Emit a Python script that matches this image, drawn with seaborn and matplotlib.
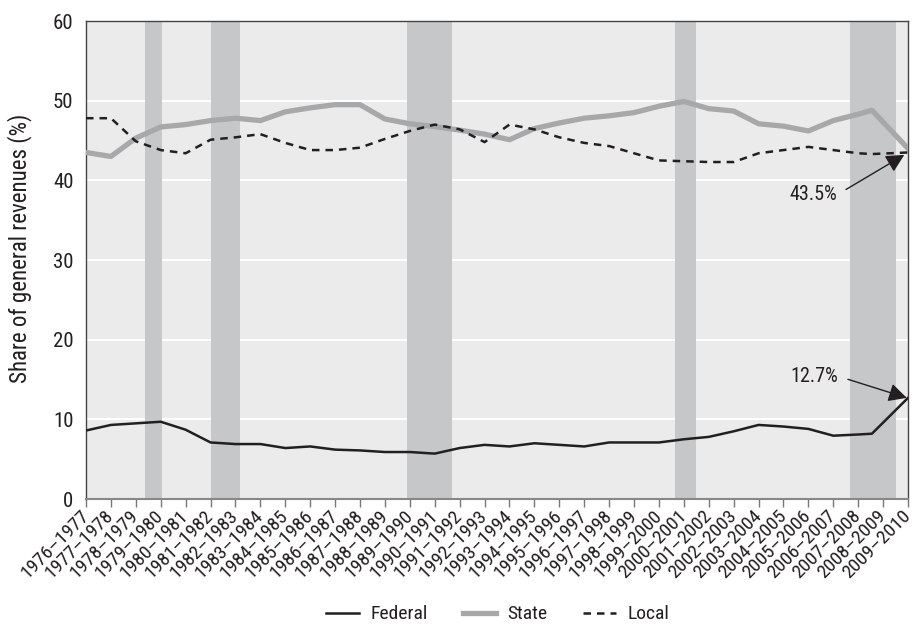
import numpy as np
import pandas as pd
import matplotlib
matplotlib.use("Agg")
import matplotlib.pyplot as plt
import seaborn as sns

# school years on the x axis
periods = ["1976–1977", "1977–1978", "1978–1979", "1979–1980", "1980–1981",
           "1981–1982", "1982–1983", "1983–1984", "1984–1985", "1985–1986",
           "1986–1987", "1987–1988", "1988–1989", "1989–1990", "1990–1991",
           "1991–1992", "1992–1993", "1993–1994", "1994–1995", "1995–1996",
           "1996–1997", "1997–1998", "1998–1999", "1999–2000", "2000–2001",
           "2001–2002", "2002–2003", "2003–2004", "2004–2005", "2005–2006",
           "2006–2007", "2007–2008", "2008–2009", "2009–2010"]
# where each value sits along the axis (the 2008-2009 point is drawn off its tick)
period_pos = list(range(32)) + [31.55, 33]

federal = [8.6, 9.3, 9.5, 9.7, 8.7, 7.1, 6.9, 6.9, 6.4, 6.6,
           6.2, 6.1, 5.9, 5.9, 5.7, 6.4, 6.8, 6.6, 7.0, 6.8,
           6.6, 7.1, 7.1, 7.1, 7.5, 7.8, 8.5, 9.3, 9.1, 8.8,
           7.95, 8.1, 8.2, 12.7]
state = [43.5, 43.0, 45.3, 46.7, 47.0, 47.5, 47.8, 47.5, 48.6, 49.1,
         49.5, 49.5, 47.7, 47.1, 46.75, 46.3, 45.8, 45.1, 46.5, 47.2,
         47.8, 48.1, 48.5, 49.3, 49.9, 49.0, 48.7, 47.1, 46.8, 46.2,
         47.5, 48.3, 48.8, 44.0]
local = [47.8, 47.8, 44.9, 43.8, 43.4, 45.1, 45.4, 45.8, 44.7, 43.8,
         43.8, 44.1, 45.2, 46.2, 47.0, 46.4, 44.8, 47.0, 46.4, 45.4,
         44.7, 44.3, 43.4, 42.5, 42.4, 42.3, 42.3, 43.4, 43.8, 44.2,
         43.8, 43.4, 43.3, 43.5]

# recession shading, in axis positions
recessions = [(2.37, 3.05), (5.02, 6.17), (12.89, 14.68), (23.65, 24.48), (30.69, 32.53)]

df = pd.DataFrame({"pos": period_pos, "Federal": federal, "State": state, "Local": local})

plt.rcParams['font.family'] = ['Roboto Condensed', 'Liberation Sans', 'DejaVu Sans']

fig = plt.figure(figsize=(9.16, 6.27), dpi=100)
ax = fig.add_axes([0.0939, 0.2041, 0.8974, 0.7624])
ax.set_facecolor('#ebebec')
ax.set_axisbelow(True)
ax.yaxis.grid(True, color='white', lw=1.5)
ax.xaxis.grid(False)

for a, b in recessions:
    ax.axvspan(a, b, color='#c6c7c9', lw=0, zorder=1)

sns.lineplot(data=df, x="pos", y="State", ax=ax, color='#a7a8aa', lw=3.8, label="State", zorder=3)
sns.lineplot(data=df, x="pos", y="Local", ax=ax, color='#231f20', lw=1.8, label="Local",
             dashes=False, zorder=4)
ax.lines[-1].set_dashes((3, 2.4))
sns.lineplot(data=df, x="pos", y="Federal", ax=ax, color='#231f20', lw=1.8, label="Federal", zorder=4)

ax.set_xlim(0, 33)
ax.set_ylim(0, 60)
ax.set_yticks(range(0, 61, 10))
ax.set_xticks(range(len(periods)))
ax.set_xticklabels(periods, rotation=45, ha='right', va='center', rotation_mode='anchor',
                   fontsize=14, color='#231f20')
ax.tick_params(axis='x', length=6, width=1, color='#777777', pad=4)
ax.tick_params(axis='y', length=0, pad=9, labelsize=15, labelcolor='#231f20')
ax.set_xlabel("")
ax.set_ylabel("Share of general revenues (%)", fontsize=16.5, color='#231f20')
ax.yaxis.set_label_coords(-0.066, 0.525)

for side in ['top', 'right', 'left']:
    ax.spines[side].set_color('#444444')
    ax.spines[side].set_linewidth(1)
ax.spines['bottom'].set_color('#888888')
ax.spines['bottom'].set_linewidth(1.5)

arrow = dict(arrowstyle='-|>,head_length=0.55,head_width=0.28', color='#231f20', lw=1,
             mutation_scale=20, shrinkA=5, shrinkB=0, relpos=(1, 0.5))
ax.annotate("43.5%", xy=(32.85, local[-1] - 0.3), xytext=(29.2, 38.2),
            fontsize=14.5, ha='center', va='center', color='#231f20', arrowprops=arrow)
ax.annotate("12.7%", xy=(32.95, federal[-1]), xytext=(29.25, 15.4),
            fontsize=14.5, ha='center', va='center', color='#231f20', arrowprops=arrow)

handles, labels = ax.get_legend_handles_labels()
order = [labels.index(n) for n in ["Federal", "State", "Local"]]
ax.legend_.remove()
fig.legend([handles[i] for i in order], [labels[i] for i in order],
           loc='center', bbox_to_anchor=(0.543, 0.02), ncol=3, frameon=False,
           fontsize=14, handlelength=1.7, handletextpad=0.6, columnspacing=1.8,
           labelcolor='#231f20')

fig.savefig("out.png", dpi=100)
